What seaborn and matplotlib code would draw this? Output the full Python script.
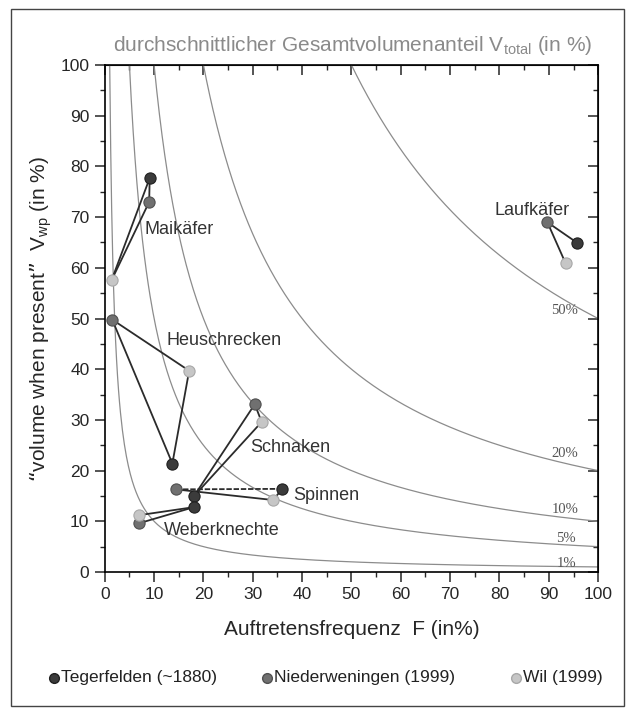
import numpy as np
import pandas as pd
import matplotlib
matplotlib.use("Agg")
import matplotlib.pyplot as plt
from matplotlib.lines import Line2D
from matplotlib.patches import Rectangle
import seaborn as sns

# groups of prey animals and the three sites
groups = ["Maikäfer", "Heuschrecken", "Schnaken", "Spinnen", "Weberknechte", "Laufkäfer"]
sites = ["Tegerfelden (~1880)", "Niederweningen (1999)", "Wil (1999)"]

# Auftretensfrequenz F (%) and volume when present (%)
teg_F = [9.1, 13.7, 18.1, 36.0, 18.1, 95.8]
teg_V = [77.7, 21.4, 15.0, 16.4, 12.8, 64.9]
nied_F = [9.0, 1.5, 30.4, 14.4, 6.9, 89.7]
nied_V = [73.0, 49.8, 33.1, 16.3, 9.6, 69.0]
wil_F = [1.4, 17.1, 31.8, 34.1, 6.9, 93.4]
wil_V = [57.6, 39.7, 29.6, 14.2, 11.2, 60.9]

# which points of a group are joined (0=Teg, 1=Nied, 2=Wil)
edges = {
    "Maikäfer": [(0, 1), (0, 2), (1, 2)],
    "Heuschrecken": [(0, 1), (0, 2), (1, 2)],
    "Schnaken": [(0, 1), (0, 2), (1, 2)],
    "Spinnen": [(1, 0), (1, 2), (0, 2)],
    "Weberknechte": [(0, 1), (0, 2), (1, 2)],
    "Laufkäfer": [(1, 0), (1, 2)],
}

# isolines of the total volume share
levels = [1, 5, 10, 20, 50]
level_labels = ["1%", "5%", "10%", "20%", "50%"]
level_lab_F = [91.5, 91.5, 90.5, 90.5, 90.5]
level_lab_V = [1.6, 6.6, 12.4, 23.4, 51.6]

label_F = [8.1, 12.6, 29.4, 38.1, 12.0, 79.0]
label_V = [67.5, 45.6, 24.5, 15.0, 8.1, 71.4]

colors = ["#3b3b3b", "#707070", "#c6c6c6"]
edgecols = ["#202020", "#505050", "#a8a8a8"]

sns.set_style("ticks")
plt.rcParams['font.family'] = ['Liberation Sans', 'DejaVu Sans']
plt.rcParams['mathtext.default'] = 'regular'

fig = plt.figure(figsize=(6.35, 7.15), dpi=100)
ax = fig.add_axes([0.165, 0.2, 0.777, 0.709])

for lv in levels:
    F = np.linspace(lv * 0.999, 100, 500)
    ax.plot(F, lv * 100 / F, color="#8c8c8c", lw=0.9, zorder=1)
for t, x, y in zip(level_labels, level_lab_F, level_lab_V):
    ax.text(x, y, t, family="Liberation Serif", fontsize=10.5, color="#555555",
            ha="left", va="center", zorder=2)

allF = [teg_F, nied_F, wil_F]
allV = [teg_V, nied_V, wil_V]
for gi, g in enumerate(groups):
    for a, b in edges[g]:
        ls = (0, (3, 1)) if (g == "Spinnen" and (a, b) == (1, 0)) else "-"
        ax.plot([allF[a][gi], allF[b][gi]], [allV[a][gi], allV[b][gi]],
                color="#2b2b2b", lw=1.3, ls=ls, zorder=3)

df = pd.DataFrame({
    "F": teg_F + nied_F + wil_F,
    "V": teg_V + nied_V + wil_V,
    "site": [sites[0]] * 6 + [sites[1]] * 6 + [sites[2]] * 6,
})
for i, s in enumerate(sites):
    sns.scatterplot(data=df[df.site == s], x="F", y="V", color=colors[i], s=65,
                    edgecolor=edgecols[i], linewidth=0.8, ax=ax, zorder=4, legend=False)

for t, x, y in zip(groups, label_F, label_V):
    ax.text(x, y, t, fontsize=13, color="#333333", ha="left", va="center", zorder=5)

ax.set_xlim(0, 100)
ax.set_ylim(0, 100)
ax.set_xticks(np.arange(0, 101, 10))
ax.set_yticks(np.arange(0, 101, 10))
ax.set_xticks(np.arange(0, 101, 5), minor=True)
ax.set_yticks(np.arange(0, 101, 5), minor=True)
ax.tick_params(which="major", length=7, width=1.1, labelsize=12.5, direction="out", pad=4)
ax.tick_params(which="minor", length=3.5, width=1.0, direction="out")
for sp in ax.spines.values():
    sp.set_visible(True)
    sp.set_linewidth(1.2)
    sp.set_color("black")

top = ax.secondary_xaxis("top")
top.set_xticks(np.arange(0, 101, 10))
top.set_xticks(np.arange(0, 101, 5), minor=True)
top.tick_params(which="major", direction="in", length=7, width=1.1, labeltop=False)
top.tick_params(which="minor", direction="in", length=3.5, width=1.0)
right = ax.secondary_yaxis("right")
right.set_yticks(np.arange(0, 101, 10))
right.set_yticks(np.arange(0, 101, 5), minor=True)
right.tick_params(which="major", direction="in", length=7, width=1.1, labelright=False)
right.tick_params(which="minor", direction="in", length=3.5, width=1.0)

ax.set_xlabel("Auftretensfrequenz  F (in%)", fontsize=15, labelpad=13)
ax.set_ylabel("\u201cvolume when present\u201d  V$_{wp}$ (in %)", fontsize=15, labelpad=5)

fig.text(0.555, 0.937, "durchschnittlicher Gesamtvolumenanteil V$_{total}$ (in %)",
         fontsize=15, color="#8a8a8a", ha="center", va="center")

# legend entries placed by hand, as in the original
leg_x = [0.085, 0.420, 0.813]
for i in range(3):
    fig.add_artist(Line2D([leg_x[i]], [0.052], ls="none", marker="o", markersize=7,
                          color=colors[i], markeredgecolor=edgecols[i],
                          transform=fig.transFigure))
    fig.text(leg_x[i] + 0.011, 0.052, sites[i], fontsize=12.5, color="#222222",
             ha="left", va="center")

fig.patches.append(Rectangle((0.017, 0.013), 0.966, 0.975, transform=fig.transFigure,
                             fill=False, edgecolor="#444444", lw=1.0))

fig.savefig("out.png", dpi=100)
